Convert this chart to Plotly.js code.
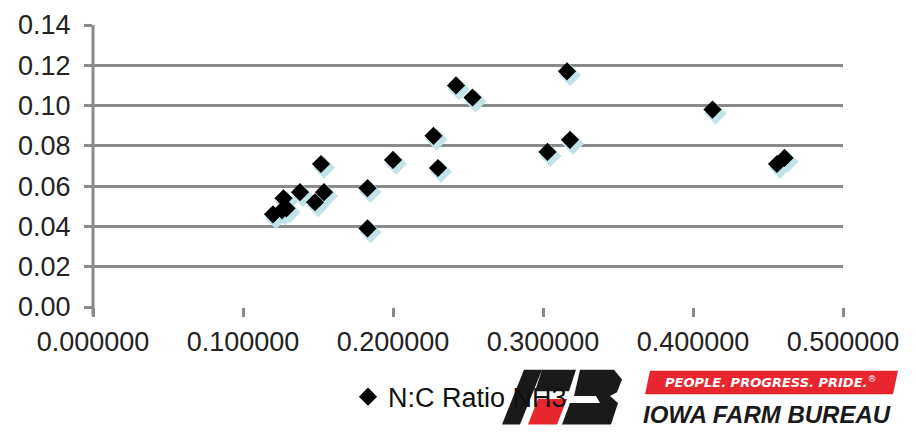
<!DOCTYPE html>
<html>
<head>
<meta charset="utf-8">
<script src="https://cdn.plot.ly/plotly-3.0.1.min.js"></script>
<style>html,body{margin:0;padding:0;background:#fff;}#chart{width:916px;height:433px;}</style>
</head>
<body>
<div id="chart"></div>
<script>
// N:C ratio (x) vs NH3 value (y)
const ncRatio = [0.120, 0.127, 0.126, 0.129, 0.138, 0.152, 0.154, 0.148, 0.183, 0.183, 0.200, 0.227, 0.230, 0.242, 0.253, 0.303, 0.318, 0.316, 0.413, 0.456, 0.461];
const nh3     = [0.046, 0.054, 0.048, 0.049, 0.057, 0.071, 0.057, 0.052, 0.059, 0.039, 0.073, 0.085, 0.069, 0.110, 0.104, 0.077, 0.083, 0.117, 0.098, 0.071, 0.074];
const seriesName = "N:C Ratio NH3";
const xTicks = [0, 0.1, 0.2, 0.3, 0.4, 0.5];
const yTicks = [0, 0.02, 0.04, 0.06, 0.08, 0.10, 0.12, 0.14];

const L = 93, R = 843, T = 25, B = 313;
const W = 916, H = 433;
const px = x => (x - L) / (R - L);
const py = y => (B - y) / (B - T);
const path = pts => 'M' + pts.map(p => px(p[0]) + ',' + py(p[1])).join(' L') + ' Z';

const tickFont = {family: '"Liberation Sans", Arial, sans-serif', size: 27, color: '#222'};

// shadow on base (hidden, slightly shifted) axes; main series on visible overlay axes drawn above
const shadow = {
  x: ncRatio, y: nh3, type: 'scatter', mode: 'markers', xaxis: 'x', yaxis: 'y',
  marker: {symbol: 'diamond', size: 17, color: '#bfe3e6'}, showlegend: false, hoverinfo: 'skip'
};
const main = {
  x: ncRatio, y: nh3, type: 'scatter', mode: 'markers', name: seriesName, xaxis: 'x2', yaxis: 'y2',
  marker: {symbol: 'diamond', size: 14, color: '#000'}
};

const shapes = [
  {type: 'line', xref: 'paper', yref: 'paper', x0: 0, x1: 0, y0: py(322), y1: 1, line: {color: '#8a8a8a', width: 3}},
  {type: 'path', xref: 'paper', yref: 'paper', path: path([[524,377],[542,377],[520,433],[502,433]]), fillcolor: '#1a1a1a', line: {width: 0}},
  {type: 'path', xref: 'paper', yref: 'paper', path: path([[542,377],[576,377],[569,399],[535,399]]), fillcolor: '#1a1a1a', line: {width: 0}},
  {type: 'path', xref: 'paper', yref: 'paper', path: path([[538,407],[567,407],[557,433],[528,433]]), fillcolor: '#e8262d', line: {width: 0}},
  {type: 'path', xref: 'paper', yref: 'paper', path: path([[580,377],[614,377],[622,387],[617,400],[610,404],[618,411],[611,433],[562,433],[570,411],[600,411],[596,404],[574,404]]), fillcolor: '#1a1a1a', line: {width: 0}},
  {type: 'path', xref: 'paper', yref: 'paper', path: path([[650,378],[898,378],[893,402],[645,402]]), fillcolor: '#e8262d', line: {width: 0}}
];

const annotations = [
  {xref: 'paper', yref: 'paper', x: px(771), y: py(390), text: '<b><i>PEOPLE. PROGRESS. PRIDE.</i></b><sup>®</sup>', showarrow: false,
   font: {family: '"DejaVu Sans", Verdana, sans-serif', size: 13, color: '#fff'}, xanchor: 'center', yanchor: 'middle'},
  {xref: 'paper', yref: 'paper', x: px(767), y: py(423), text: '<b><i>IOWA FARM BUREAU</i></b>', showarrow: false,
   font: {family: '"Liberation Sans", Arial, sans-serif', size: 24, color: '#1a1a1a'}, xanchor: 'center', yanchor: 'middle'}
];

const axisBase = {fixedrange: true};
const layout = {
  width: W, height: H,
  margin: {l: L, r: W - R, t: T, b: H - B, pad: 0},
  paper_bgcolor: '#fff', plot_bgcolor: '#fff',
  showlegend: true,
  legend: {orientation: 'h', x: px(348), y: py(380), xanchor: 'left', yanchor: 'top',
           font: {family: '"Liberation Sans", Arial, sans-serif', size: 27, color: '#111'}, bgcolor: 'rgba(0,0,0,0)'},
  xaxis: {range: [-0.002, 0.498], visible: false, fixedrange: true},
  yaxis: {range: [0.0019, 0.1419], visible: false, fixedrange: true},
  xaxis2: {overlaying: 'x', range: [0, 0.5], tickvals: xTicks, tickformat: '.6f', showgrid: false, zeroline: false, showline: false,
          ticks: 'outside', ticklen: 9, tickwidth: 3, tickcolor: '#8a8a8a', tickfont: tickFont, ticklabelstandoff: 2, fixedrange: true},
  yaxis2: {overlaying: 'y', range: [0, 0.14], tickvals: yTicks, tickformat: '.2f', showgrid: true, gridcolor: '#8a8a8a', gridwidth: 3,
          zeroline: true, zerolinecolor: 'rgba(0,0,0,0)', showline: false, side: 'left',
          ticks: 'outside', ticklen: 8, tickwidth: 3, tickcolor: '#8a8a8a', tickfont: tickFont, ticklabelstandoff: 8, fixedrange: true},
  shapes: shapes,
  annotations: annotations
};

Plotly.newPlot('chart', [shadow, main], layout, {displayModeBar: false, staticPlot: true});
</script>
</body>
</html>
